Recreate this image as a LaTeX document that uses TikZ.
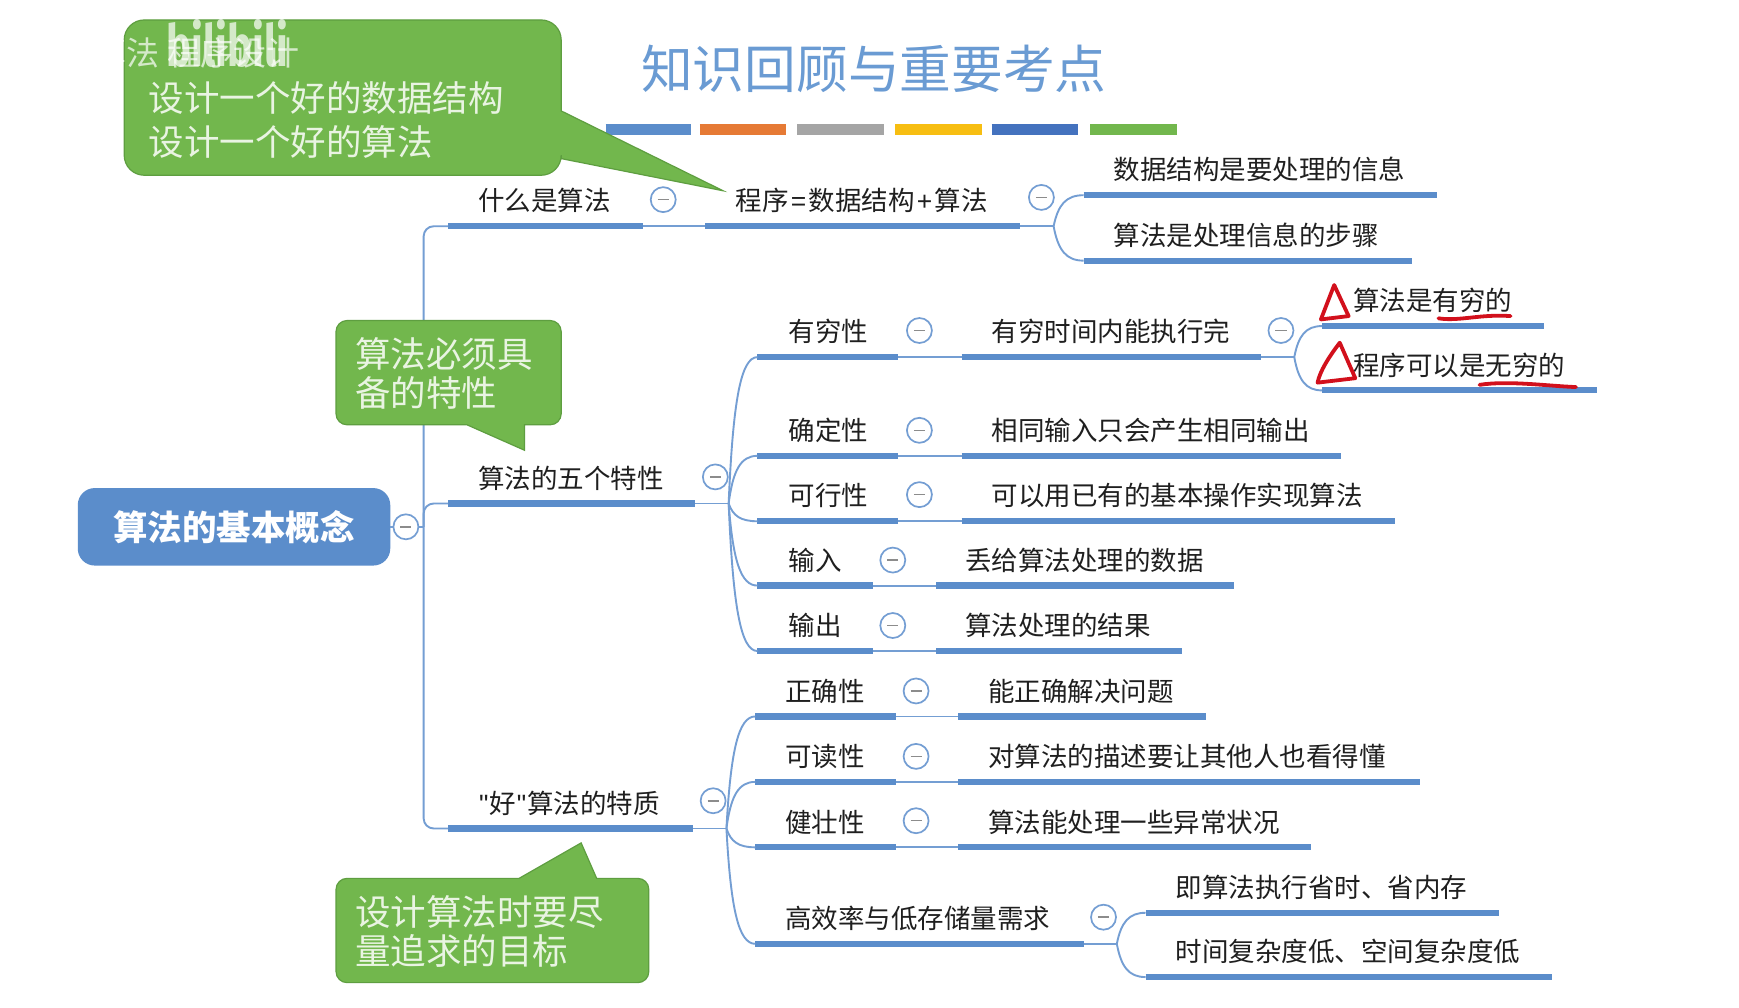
\documentclass[tikz,border=0pt]{standalone}
\usepackage{fontspec}
\setmainfont{Noto Sans CJK SC}
\newfontfamily\logofont{Fira Sans}
\newfontfamily\latinq{Liberation Sans}
\usetikzlibrary{calc}
\definecolor{mapblue}{HTML}{5B8DCB}
\definecolor{mapgreen}{HTML}{72B74D}
\definecolor{mapgreenedge}{HTML}{5E9E40}
\definecolor{titleblue}{HTML}{6A9BD3}
\definecolor{inkred}{HTML}{D2101C}
\definecolor{calloutink}{HTML}{E9F4E2}
\definecolor{stripeorange}{HTML}{E67A35}
\definecolor{stripegray}{HTML}{A5A5A5}
\definecolor{stripeyellow}{HTML}{F7BE12}
\definecolor{stripeblue}{HTML}{4472BE}
\tikzset{
  x=1.10906pt,y=-1.10906pt,
  bar/.style={draw=mapblue,line width=6.2pt},
  link/.style={draw=mapblue!85!white,line width=1.9pt},
  topictext/.style={anchor=west,inner sep=0pt,text=black!88,font=\fontsize{26.5}{30}\selectfont},
  ctlnode/.style={circle,draw=mapblue!85!white,fill=white,line width=1.7pt,minimum size=25pt,inner sep=0pt},
  calloutshape/.style={fill=mapgreen,draw=mapgreenedge,line width=1.2pt},
  callouttext/.style={anchor=west,inner sep=0pt,text=calloutink,font=\fontsize{35.5}{40}\selectfont},
  stripe/.style={line width=11pt},
  redmark/.style={draw=inkred,line width=3.8pt,line cap=round,line join=round},
}
\newcommand{\topic}[6]{%
  \coordinate (#1-l) at (#2,#4);
  \coordinate (#1-r) at (#3,#4);
  \draw[bar] (#1-l) -- (#1-r);
  \node[topictext] (#1-t) at (#5,#4-22.9) {#6};
}
\newcommand{\ctl}[3]{%
  \node[ctlnode] (#1) at (#2,#3) {};
  \draw[black!45,line width=1.5pt] ($(#1.center)+(-5,0)$) -- ($(#1.center)+(5,0)$);
}
\newcommand{\branch}[2]{%
  \draw[link] (#1) .. controls ($($(#1)!0.15!(#2 |- #1)$)!0.7!($(#1 |- #2)!0.15!(#2)$)$) and ($(#1 |- #2)!0.42!(#2)$) .. (#2);
}
\newcommand{\qt}{\makebox[11.2pt]{\latinq\char"22}}
\newcommand{\sym}[1]{\makebox[20pt]{\latinq #1}}
\begin{document}
\begin{tikzpicture}
\useasboundingbox[fill=white] (0,0) rectangle (1568,908);

% title
\node[inner sep=0pt,text=titleblue,font=\fontsize{51.7}{56}\selectfont] (title) at (788,62) {知识回顾与重要考点};
\draw[stripe,draw=mapblue] (546,117) -- (623,117);
\draw[stripe,draw=stripeorange] (631,117) -- (709,117);
\draw[stripe,draw=stripegray] (719,117) -- (797,117);
\draw[stripe,draw=stripeyellow] (807,117) -- (885,117);
\draw[stripe,draw=stripeblue] (894,117) -- (972,117);
\draw[stripe,draw=mapgreen] (983,117) -- (1061,117);

% root
\node[fill=mapblue,rounded corners=17pt,minimum width=312.5pt,minimum height=77.5pt,inner sep=0pt,text=white,font=\fontsize{34.5}{38}\selectfont\bfseries] (root) at (211,475) {算法的基本概念};

% topics
\topic{what}{404}{580}{204}{431}{什么是算法}
\topic{prog}{636}{920}{204}{663}{程序\sym{=}数据结构\sym{+}算法}
\topic{ds}{977}{1296}{176}{1004}{数据结构是要处理的信息}
\topic{al}{977}{1273}{235}{1004}{算法是处理信息的步骤}

\topic{five}{404}{627}{454}{431}{算法的五个特性}
\topic{fin}{683}{810}{322}{711}{有穷性}
\topic{fint}{867}{1137}{322}{894}{有穷时间内能执行完}
\topic{fina}{1192}{1392}{294}{1220}{算法是有穷的}
\topic{finp}{1192}{1440}{352}{1220}{程序可以是无穷的}
\topic{det}{683}{810}{411}{711}{确定性}
\topic{dett}{867}{1209}{411}{894}{相同输入只会产生相同输出}
\topic{fea}{683}{810}{470}{711}{可行性}
\topic{feat}{867}{1258}{470}{894}{可以用已有的基本操作实现算法}
\topic{inp}{683}{787}{528}{711}{输入}
\topic{inpt}{844}{1113}{528}{870}{丢给算法处理的数据}
\topic{out}{683}{787}{587}{711}{输出}
\topic{outt}{844}{1066}{587}{870}{算法处理的结果}

\topic{good}{404}{625}{747}{431}{\qt 好\qt 算法的特质}
\topic{cor}{681}{808}{646}{708}{正确性}
\topic{cort}{864}{1087}{646}{891}{能正确解决问题}
\topic{rea}{681}{808}{705}{708}{可读性}
\topic{reat}{864}{1280}{705}{891}{对算法的描述要让其他人也看得懂}
\topic{rob}{681}{808}{764}{708}{健壮性}
\topic{robt}{864}{1182}{764}{891}{算法能处理一些异常状况}
\topic{eff}{681}{977}{851}{708}{高效率与低存储量需求}
\topic{effa}{1033}{1352}{823}{1060}{即算法执行省时、省内存}
\topic{effb}{1033}{1399}{881}{1060}{时间复杂度低、空间复杂度低}

% junctions
\coordinate (spine) at (382,475);
\coordinate (jprog) at (950,204);
\coordinate (jfive) at (657,454);
\coordinate (jfint) at (1167,322);
\coordinate (jgood) at (655,747);
\coordinate (jeff) at (1007,851);

% connectors
\draw[link] (root.east) -- (spine);
\draw[link,rounded corners=10pt] (what-l) -| (spine) |- (good-l);
\draw[link,rounded corners=10pt] (spine) |- (five-l);
\draw[link] (what-r) -- (prog-l);
\draw[link] (prog-r) -- (jprog);
\branch{jprog}{ds-l}
\branch{jprog}{al-l}
\draw[link] (five-r) -- (jfive);
\branch{jfive}{fin-l}
\branch{jfive}{det-l}
\branch{jfive}{fea-l}
\branch{jfive}{inp-l}
\branch{jfive}{out-l}
\draw[link] (fin-r) -- (fint-l);
\draw[link] (fint-r) -- (jfint);
\branch{jfint}{fina-l}
\branch{jfint}{finp-l}
\draw[link] (det-r) -- (dett-l);
\draw[link] (fea-r) -- (feat-l);
\draw[link] (inp-r) -- (inpt-l);
\draw[link] (out-r) -- (outt-l);
\draw[link] (good-r) -- (jgood);
\branch{jgood}{cor-l}
\branch{jgood}{rea-l}
\branch{jgood}{rob-l}
\branch{jgood}{eff-l}
\draw[link] (cor-r) -- (cort-l);
\draw[link] (rea-r) -- (reat-l);
\draw[link] (rob-r) -- (robt-l);
\draw[link] (eff-r) -- (jeff);
\branch{jeff}{effa-l}
\branch{jeff}{effb-l}

% collapse buttons
\ctl{c0}{366}{475}
\ctl{c1}{598}{180}
\ctl{c2}{939}{178}
\ctl{c3}{645}{430}
\ctl{c4}{829}{298}
\ctl{c5}{1155}{298}
\ctl{c6}{829}{388}
\ctl{c7}{829}{446}
\ctl{c8}{805}{505}
\ctl{c9}{805}{564}
\ctl{c10}{643}{722}
\ctl{c11}{826}{623}
\ctl{c12}{826}{682}
\ctl{c13}{826}{740}
\ctl{c14}{995}{827}

% callouts
\path[calloutshape] (506,143) [rounded corners=20pt] -- (506,158) -- (112,158) -- (112,18) -- (506,18) [sharp corners] -- (506,100) -- (652,172) -- cycle;
\node[callouttext] (cb1a) at (134,88) {设计一个好的数据结构};
\node[callouttext] (cb1b) at (134,128) {设计一个好的算法};

\path[calloutshape] (473,383) [rounded corners=11pt] -- (506,383) -- (506,289) -- (303,289) -- (303,383) [sharp corners] -- (421,383) -- (473,406) -- cycle;
\node[callouttext] (cb2a) at (320,319) {算法必须具};
\node[callouttext] (cb2b) at (320,354) {备的特性};

\path[calloutshape] (468,792) [rounded corners=11pt] -- (303,792) -- (303,886) -- (585,886) -- (585,792) [sharp corners] -- (538,792) -- (524,760) -- cycle;
\node[callouttext] (cb3a) at (320,822) {设计算法时要尽};
\node[callouttext] (cb3b) at (320,857) {量追求的目标};

% watermark
\node[anchor=east,inner sep=0pt,text=white,opacity=0.7,font=\fontsize{33}{37}\selectfont] (wm) at (270,48) {算法 程序设计};
\node[inner sep=0pt,text=white,opacity=0.7,xscale=0.72,font=\logofont\bfseries\fontsize{58}{60}\selectfont] (logo) at (205,39) {bilibili};

% red pen marks
\draw[redmark] (1203,257) -- (1191,288) -- (1216,285) -- cycle;
\draw[redmark] (1208,309) .. controls (1198,322) and (1190,335) .. (1188,345) -- (1222,341) -- cycle;
\draw[redmark] (1297,287) .. controls (1315,290) and (1335,283) .. (1362,285);
\draw[redmark] (1334,347) .. controls (1360,343) and (1395,348) .. (1421,349);
\end{tikzpicture}
\end{document}
